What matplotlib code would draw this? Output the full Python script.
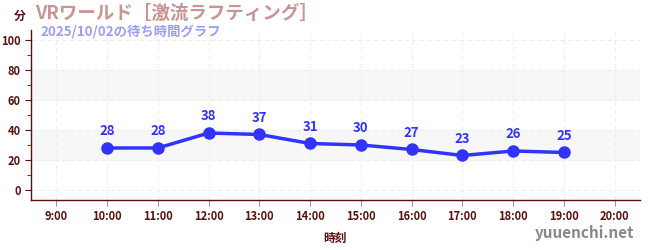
import matplotlib
matplotlib.use("Agg")
import matplotlib.pyplot as plt

plt.rcParams["font.family"] = ["Noto Sans CJK JP", "DejaVu Sans"]

hours = [10, 11, 12, 13, 14, 15, 16, 17, 18, 19]
waits = [28, 28, 38, 37, 31, 30, 27, 23, 26, 25]
xtick_hours = list(range(9, 21))
xtick_labels = [f"{h}:00" for h in xtick_hours]
yticks = [0, 20, 40, 60, 80, 100]

title = "VRワールド［激流ラフティング］"
subtitle = "2025/10/02の待ち時間グラフ"

dark = "#5a1010"
line_col = "#3333ff"

fig = plt.figure(figsize=(6.5, 2.5), dpi=100)
ax = fig.add_axes([31 / 650, 0.2, 609 / 650, 0.68])

ax.set_xlim(8.5, 20.5)
ax.set_ylim(-6.7, 106.7)

# light bands
for lo, hi in [(20, 40), (60, 80)]:
    ax.axhspan(lo, hi, color="#f7f7f7", zorder=0)

ax.set_xticks(xtick_hours)
ax.set_xticklabels(xtick_labels)
ax.set_yticks(yticks)
ax.set_yticks([10, 30, 50, 70, 90], minor=True)
ax.grid(True, which="major", color="#ededed", linestyle=(0, (4, 3)), linewidth=0.8)
ax.set_axisbelow(True)

ax.plot(hours, waits, color=line_col, linewidth=2.5, marker="o",
        markersize=8, zorder=3)
for h, w in zip(hours, waits):
    ax.annotate(str(w), (h, w), xytext=(0, 7), textcoords="offset points",
                ha="center", va="bottom", color=line_col, fontsize=9.5,
                fontweight="bold")

for s in ["top", "right"]:
    ax.spines[s].set_visible(False)
for s in ["left", "bottom"]:
    ax.spines[s].set_color(dark)
    ax.spines[s].set_linewidth(1.0)

ax.tick_params(axis="both", which="major", colors=dark, labelsize=8,
               length=4, width=0.8)
ax.tick_params(axis="x", which="major", color="#999999")
ax.tick_params(axis="y", which="minor", color="red", length=3, width=0.8)
for lbl in ax.get_xticklabels() + ax.get_yticklabels():
    lbl.set_fontweight("bold")

ax.set_xlabel("時刻", color=dark, fontsize=8.5, fontweight="bold", labelpad=6)

fig.text(14 / 650, 1 - 16 / 250, "分", color=dark, fontsize=8.5,
         fontweight="bold", va="center")
fig.text(35 / 650, 1 - 13 / 250, title, color="#c89494", fontsize=13.3,
         fontweight="bold", va="center")
fig.text(40 / 650, 1 - 31 / 250, subtitle, color="#9e9ef0", fontsize=9.6,
         fontweight="bold", va="center")
fig.text(634 / 650, 1 - 233 / 250, "yuuenchi.net", color="#888888",
         fontsize=11, fontweight="bold", ha="right", va="center")

fig.savefig("out.png", dpi=100)
